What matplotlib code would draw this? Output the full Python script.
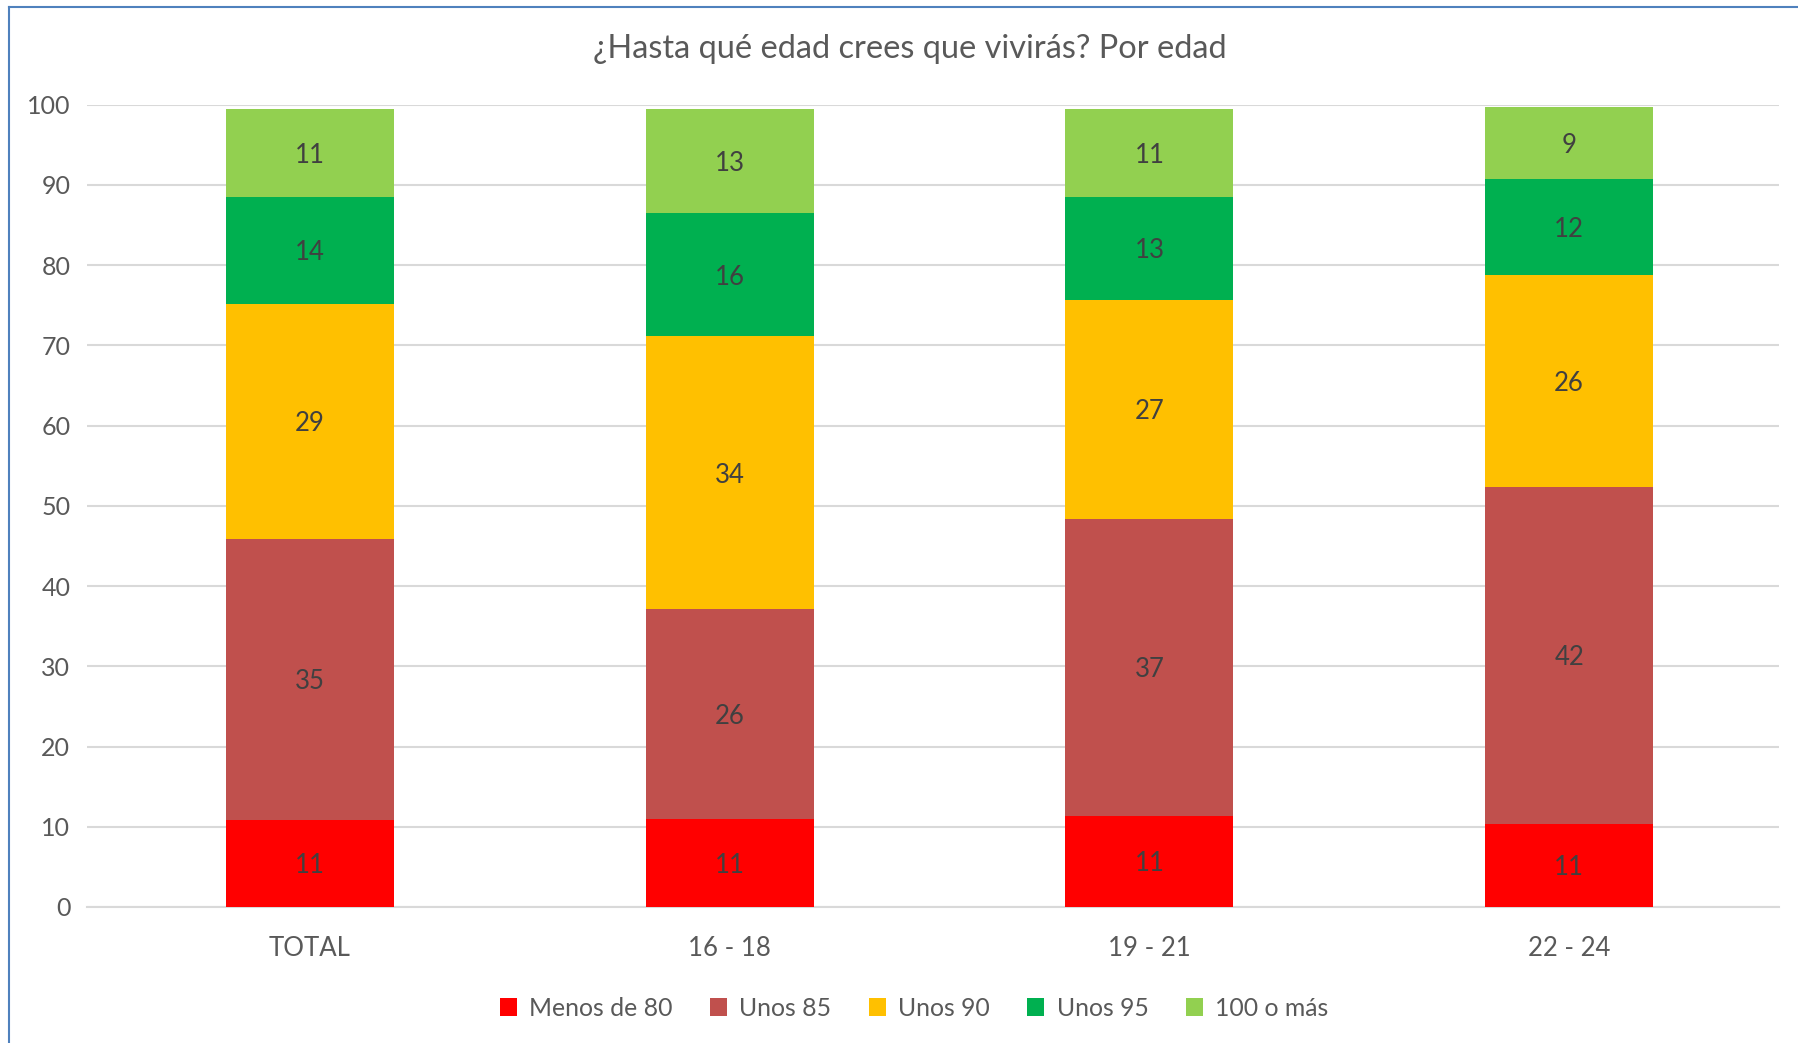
import matplotlib.pyplot as plt
from matplotlib.lines import Line2D

plt.rcParams['font.family'] = ['Lato', 'DejaVu Sans']

grupos = ["TOTAL", "16 - 18", "19 - 21", "22 - 24"]
series = ["Menos de 80", "Unos 85", "Unos 90", "Unos 95", "100 o más"]
colores = ["#FF0000", "#C0504D", "#FFC000", "#00B050", "#92D050"]

# alturas (porcentaje)
menos_80 = [10.9, 11.0, 11.4, 10.4]
unos_85 = [35.0, 26.1, 36.9, 41.9]
unos_90 = [29.2, 34.0, 27.4, 26.4]
unos_95 = [13.4, 15.4, 12.8, 12.0]
cien_mas = [11.0, 13.0, 11.0, 9.0]

# etiquetas que muestra el grafico
etq_menos_80 = ["11", "11", "11", "11"]
etq_unos_85 = ["35", "26", "37", "42"]
etq_unos_90 = ["29", "34", "27", "26"]
etq_unos_95 = ["14", "16", "13", "12"]
etq_cien_mas = ["11", "13", "11", "9"]

valores = [menos_80, unos_85, unos_90, unos_95, cien_mas]
etiquetas = [etq_menos_80, etq_unos_85, etq_unos_90, etq_unos_95, etq_cien_mas]

gris = "#595959"

fig = plt.figure(figsize=(17.98, 10.43), dpi=100)
ax = fig.add_axes([87 / 1798, 1 - 907 / 1043, (1779 - 87) / 1798, (907 - 104.5) / 1043])

x = list(range(len(grupos)))
base = [0] * len(grupos)
for nombre, vals, etqs, color in zip(series, valores, etiquetas, colores):
    ax.bar(x, vals, width=0.4, bottom=base, color=color, label=nombre, zorder=3)
    for i in range(len(x)):
        ax.text(x[i], base[i] + vals[i] / 2 - 0.3, etqs[i], ha="center", va="center",
                fontsize=18.5, color="#404040", zorder=4)
    base = [b + v for b, v in zip(base, vals)]

ax.set_ylim(0, 100)
ax.set_xlim(-0.531, 3.5)
ax.set_yticks(range(0, 101, 10))
ax.set_xticks(x)
ax.set_xticklabels(grupos)
ax.grid(axis="y", color="#D9D9D9", linewidth=1.5, zorder=0)
for lado in ["top", "right", "left"]:
    ax.spines[lado].set_visible(False)
ax.spines["bottom"].set_color("#D9D9D9")
ax.spines["bottom"].set_linewidth(1.5)
ax.tick_params(axis="both", length=0, labelsize=18, labelcolor=gris)
ax.tick_params(axis="x", labelsize=18.5, pad=21)
ax.tick_params(axis="y", pad=12)

fig.text(0.506, 0.953, "¿Hasta qué edad crees que vivirás? Por edad",
         ha="center", va="center", fontsize=23.4, color=gris)

ax.legend(loc="center", bbox_to_anchor=(914 / 1798, 1 - 1008 / 1043),
          bbox_transform=fig.transFigure, ncol=5, frameon=False,
          fontsize=17.8, labelcolor=gris, handlelength=0.7, handleheight=0.7,
          handletextpad=0.5, columnspacing=1.5)

# marco del grafico
borde = "#4F81BD"
fig.add_artist(Line2D([9 / 1798, 9 / 1798], [0, 1 - 7 / 1043], color=borde, linewidth=1.5))
fig.add_artist(Line2D([9 / 1798, 1], [1 - 7 / 1043, 1 - 7 / 1043], color=borde, linewidth=1.5))

fig.savefig("out.png", dpi=100, facecolor="white")
